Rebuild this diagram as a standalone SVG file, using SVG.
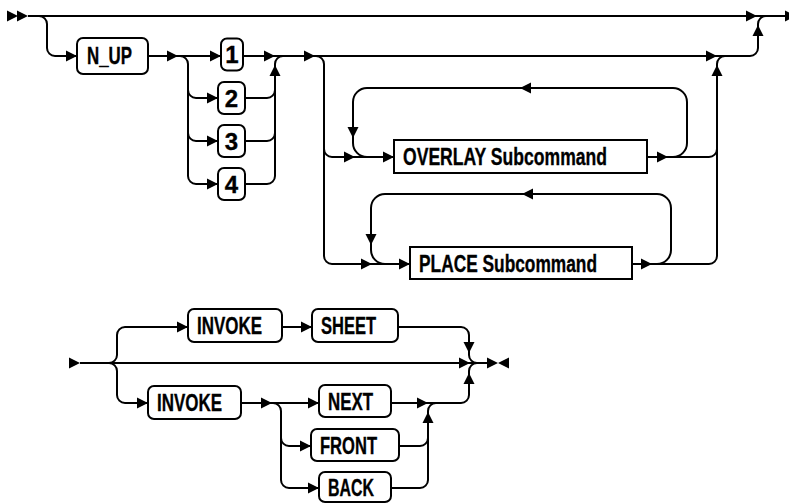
<svg xmlns="http://www.w3.org/2000/svg" width="789" height="503" viewBox="0 0 789 503">
<style>
.ln{fill:none;stroke:#000;stroke-width:2;stroke-linejoin:round}
.bx{fill:#fff;stroke:#000;stroke-width:2}
.t{font-family:"Liberation Sans Narrow","Liberation Sans",Arial,sans-serif;font-weight:bold;font-size:24px;fill:#000;stroke:#000;stroke-width:0.35}
.m{text-anchor:middle}
</style>
<defs>
<path id="a" d="M0,0 L-11,-5.5 L-11,5.5 Z" fill="#000"/>
</defs>
<rect width="789" height="503" fill="#fff"/>
<g id="connectors">
<path class="ln" d="M28,16 H786"/>
<path class="ln" d="M39,16 A8,8 0 0 1 47,24 V48 A8,8 0 0 0 55,56 H77"/>
<path class="ln" d="M148,56 H221"/>
<path class="ln" d="M180,56 A8,8 0 0 1 188,64 V90 A8,8 0 0 0 196,98 H218"/>
<path class="ln" d="M188,64 V133 A8,8 0 0 0 196,141 H218"/>
<path class="ln" d="M188,64 V176 A8,8 0 0 0 196,184 H218"/>
<path class="ln" d="M243,56 H750 A8,8 0 0 0 758,48 V24 A8,8 0 0 1 766,16"/>
<path class="ln" d="M245,98 H267 A8,8 0 0 0 275,90 V64 A8,8 0 0 1 283,56"/>
<path class="ln" d="M245,141 H267 A8,8 0 0 0 275,133 V90"/>
<path class="ln" d="M245,184 H267 A8,8 0 0 0 275,176 V133"/>
<path class="ln" d="M316,56 A8,8 0 0 1 324,64 V149 A8,8 0 0 0 332,157 H394"/>
<path class="ln" d="M324,149 V256 A8,8 0 0 0 332,264 H410"/>
<path class="ln" d="M647,157 H709 A8,8 0 0 0 717,149 V64 A8,8 0 0 1 725,56"/>
<path class="ln" d="M632,264 H709 A8,8 0 0 0 717,256 V149"/>
<path class="ln" d="M673,157 A14,14 0 0 0 687,143 V102 A14,14 0 0 0 673,88 H367 A14,14 0 0 0 353,102 V143 A14,14 0 0 0 367,157"/>
<path class="ln" d="M657,264 A14,14 0 0 0 671,250 V208 A14,14 0 0 0 657,194 H385 A14,14 0 0 0 371,208 V250 A14,14 0 0 0 385,264"/>
<use href="#a" transform="translate(18,16)"/>
<use href="#a" transform="translate(28,16)"/>
<use href="#a" transform="translate(796,16)"/>
<use href="#a" transform="translate(757,16)"/>
<use href="#a" transform="translate(758,25) rotate(-90)"/>
<use href="#a" transform="translate(77,56)"/>
<use href="#a" transform="translate(178,56)"/>
<use href="#a" transform="translate(221,56)"/>
<use href="#a" transform="translate(218,98)"/>
<use href="#a" transform="translate(218,141)"/>
<use href="#a" transform="translate(218,184)"/>
<use href="#a" transform="translate(275,56)"/>
<use href="#a" transform="translate(275,65) rotate(-90)"/>
<use href="#a" transform="translate(315,56)"/>
<use href="#a" transform="translate(717,56)"/>
<use href="#a" transform="translate(717,65) rotate(-90)"/>
<use href="#a" transform="translate(355,157)"/>
<use href="#a" transform="translate(394,157)"/>
<use href="#a" transform="translate(668,157)"/>
<use href="#a" transform="translate(520,88) rotate(180)"/>
<use href="#a" transform="translate(353,138) rotate(90)"/>
<use href="#a" transform="translate(372,264)"/>
<use href="#a" transform="translate(410,264)"/>
<use href="#a" transform="translate(652,264)"/>
<use href="#a" transform="translate(522,194) rotate(180)"/>
<use href="#a" transform="translate(371,245) rotate(90)"/>
<path class="ln" d="M80,363 H488"/>
<path class="ln" d="M109,363 A8,8 0 0 0 117,355 V335 A8,8 0 0 1 125,327 H188"/>
<path class="ln" d="M282,327 H312"/>
<path class="ln" d="M398,327 H461 A8,8 0 0 1 469,335 V355 A8,8 0 0 0 477,363"/>
<path class="ln" d="M109,363 A8,8 0 0 1 117,371 V395 A8,8 0 0 0 125,403 H148"/>
<path class="ln" d="M241,403 H319"/>
<path class="ln" d="M273,403 A8,8 0 0 1 281,411 V438 A8,8 0 0 0 289,446 H311"/>
<path class="ln" d="M281,438 V480 A8,8 0 0 0 289,488 H319"/>
<path class="ln" d="M391,403 H461 A8,8 0 0 0 469,395 V371 A8,8 0 0 1 477,363"/>
<path class="ln" d="M399,446 H420 A8,8 0 0 0 428,438 V411 A8,8 0 0 1 436,403"/>
<path class="ln" d="M391,488 H420 A8,8 0 0 0 428,480 V438"/>
<use href="#a" transform="translate(80,363)"/>
<use href="#a" transform="translate(188,327)"/>
<use href="#a" transform="translate(312,327)"/>
<use href="#a" transform="translate(469,353) rotate(90)"/>
<use href="#a" transform="translate(470,363)"/>
<use href="#a" transform="translate(498,363)"/>
<use href="#a" transform="translate(498,363) rotate(180)"/>
<use href="#a" transform="translate(148,403)"/>
<use href="#a" transform="translate(272,403)"/>
<use href="#a" transform="translate(319,403)"/>
<use href="#a" transform="translate(311,446)"/>
<use href="#a" transform="translate(319,488)"/>
<use href="#a" transform="translate(428,403)"/>
<use href="#a" transform="translate(428,412) rotate(-90)"/>
<use href="#a" transform="translate(469,373) rotate(-90)"/>
</g>
<g id="n_up"><rect class="bx" x="77" y="38" width="71" height="36" rx="6"/><text class="t" x="87" y="64" textLength="45" lengthAdjust="spacingAndGlyphs">N_UP</text></g>
<g id="n1"><rect class="bx" x="221" y="38.5" width="22" height="32" rx="6"/><text class="t m" x="232" y="63">1</text></g>
<g id="n2"><rect class="bx" x="218" y="82" width="27" height="32" rx="6"/><text class="t m" x="231.5" y="106.5">2</text></g>
<g id="n3"><rect class="bx" x="218" y="125" width="27" height="32" rx="6"/><text class="t m" x="231.5" y="149.5">3</text></g>
<g id="n4"><rect class="bx" x="218" y="168" width="27" height="32" rx="6"/><text class="t m" x="231.5" y="192.5">4</text></g>
<g id="overlay"><rect class="bx" x="394" y="140" width="253" height="33"/><text class="t" x="403" y="165" textLength="204" lengthAdjust="spacingAndGlyphs">OVERLAY Subcommand</text></g>
<g id="place"><rect class="bx" x="410" y="247" width="222" height="32"/><text class="t" x="419" y="271.5" textLength="178" lengthAdjust="spacingAndGlyphs">PLACE Subcommand</text></g>
<g id="invoke1"><rect class="bx" x="188" y="309" width="94" height="33" rx="6"/><text class="t" x="197" y="334" textLength="65" lengthAdjust="spacingAndGlyphs">INVOKE</text></g>
<g id="sheet"><rect class="bx" x="312" y="309" width="86" height="33" rx="6"/><text class="t" x="321" y="334" textLength="55" lengthAdjust="spacingAndGlyphs">SHEET</text></g>
<g id="invoke2"><rect class="bx" x="148" y="386" width="93" height="33" rx="6"/><text class="t" x="157" y="411" textLength="65" lengthAdjust="spacingAndGlyphs">INVOKE</text></g>
<g id="next"><rect class="bx" x="319" y="385" width="72" height="32" rx="6"/><text class="t" x="328" y="409.5" textLength="45" lengthAdjust="spacingAndGlyphs">NEXT</text></g>
<g id="front"><rect class="bx" x="311" y="429" width="88" height="32" rx="6"/><text class="t" x="320" y="453.5" textLength="57" lengthAdjust="spacingAndGlyphs">FRONT</text></g>
<g id="back"><rect class="bx" x="319" y="472" width="72" height="30" rx="6"/><text class="t" x="328" y="496" textLength="46" lengthAdjust="spacingAndGlyphs">BACK</text></g>
</svg>
